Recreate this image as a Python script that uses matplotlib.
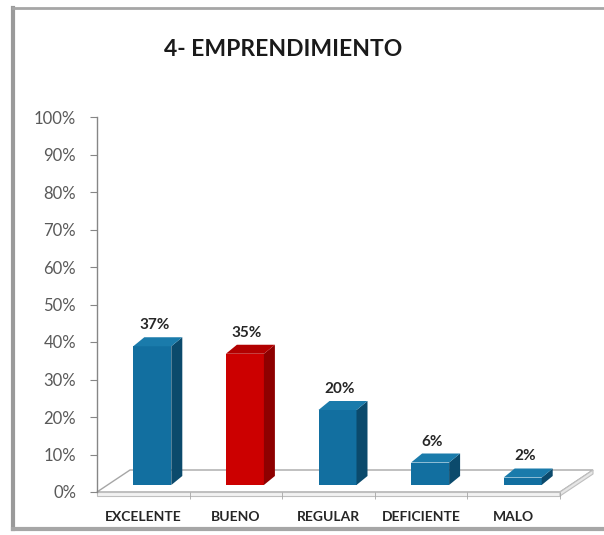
import matplotlib
matplotlib.use("Agg")
import matplotlib.pyplot as plt
from matplotlib.patches import Polygon
from matplotlib.lines import Line2D
import numpy as np

categories = ["EXCELENTE", "BUENO", "REGULAR", "DEFICIENTE", "MALO"]
values = [0.37, 0.35, 0.20, 0.06, 0.02]
value_labels = ["37%", "35%", "20%", "6%", "2%"]
tick_values = [0.0, 0.1, 0.2, 0.3, 0.4, 0.5, 0.6, 0.7, 0.8, 0.9, 1.0]
tick_labels = ["0%", "10%", "20%", "30%", "40%", "50%", "60%", "70%", "80%", "90%", "100%"]
title = "4- EMPRENDIMIENTO"

front_colors = ["#126FA0", "#CC0000", "#126FA0", "#126FA0", "#126FA0"]
side_colors = ["#0B4A6C", "#8E0000", "#0B4A6C", "#0B4A6C", "#0B4A6C"]
top_colors = ["#1A7BAB", "#B20000", "#1A7BAB", "#1A7BAB", "#1A7BAB"]

FONT = ["Lato", "DejaVu Sans"]

W, H = 604, 535
fig = plt.figure(figsize=(W / 100, H / 100), dpi=100)
fig.patch.set_facecolor("white")

# axes: x from 97px to 560px, y 0% at 492px, 100% at 117px (from top)
left, right = 97, 560
y0, y100 = 492, 117
ax = fig.add_axes([left / W, (H - y0) / H, (right - left) / W, (y0 - y100) / H])
ax.set_xlim(-0.5, 4.5)
ax.set_ylim(0, 1)
ax.set_facecolor("none")

xu = (right - left) / 5.0       # px per category
yu = (y0 - y100) / 1.0          # px per unit value

# floor depth offsets (data units)
fdx, fdy = 33 / xu, 22 / yu
floor = Polygon([(-0.5, 0), (-0.5 + fdx, fdy), (4.5 + fdx, fdy), (4.5, 0)],
                closed=True, facecolor="white", edgecolor="#A6A6A6", lw=1.0,
                clip_on=False, zorder=1)
ax.add_patch(floor)
slab = Polygon([(-0.5, 0), (4.5, 0), (4.5, -4 / yu), (-0.5, -4 / yu)], closed=True,
               facecolor="#F2F2F2", edgecolor="#BFBFBF", lw=0.8, clip_on=False, zorder=1)
ax.add_patch(slab)
slab_side = Polygon([(4.5, 0), (4.5 + fdx, fdy), (4.5 + fdx, fdy - 4 / yu), (4.5, -4 / yu)],
                    closed=True, facecolor="#E6E6E6", edgecolor="#BFBFBF", lw=0.8,
                    clip_on=False, zorder=1)
ax.add_patch(slab_side)

# bars
x = np.arange(len(categories))
ox, oy = 9 / xu, 7 / yu
bw = 38 / xu
sdx, sdy = 11 / xu, 9 / yu
bars = ax.bar(x + ox, values, width=bw, bottom=oy, color=front_colors,
              edgecolor="none", zorder=3)
for b, sc, tc, lab in zip(bars, side_colors, top_colors, value_labels):
    bx, by, bwid, bh = b.get_x(), b.get_y(), b.get_width(), b.get_height()
    side = Polygon([(bx + bwid, by), (bx + bwid + sdx, by + sdy),
                    (bx + bwid + sdx, by + bh + sdy), (bx + bwid, by + bh)],
                   closed=True, facecolor=sc, edgecolor="none", zorder=3, clip_on=False)
    top = Polygon([(bx, by + bh), (bx + sdx, by + bh + sdy),
                   (bx + bwid + sdx, by + bh + sdy), (bx + bwid, by + bh)],
                  closed=True, facecolor=tc, edgecolor="none", zorder=3, clip_on=False)
    ax.add_patch(side)
    ax.add_patch(top)
    ax.text(bx + bwid / 2 + 2 / xu, by + bh + sdy + 5 / yu, lab,
            ha="center", va="bottom", fontsize=11, fontweight="bold",
            color="#262626", family=FONT, zorder=5)

# y axis
for s in ["top", "right", "bottom"]:
    ax.spines[s].set_visible(False)
ax.spines["left"].set_color("#868686")
ax.spines["left"].set_linewidth(1.0)
ax.set_yticks(tick_values)
ax.set_yticklabels(tick_labels, fontsize=12, color="#595959", family=FONT)
ax.tick_params(axis="y", direction="out", length=5, color="#868686", pad=10)

# x axis
ax.set_xticks(x)
ax.set_xticklabels(categories, fontsize=10, fontweight="bold", color="#262626", family=FONT)
ax.tick_params(axis="x", length=0, pad=14)
ax.set_xticks(np.arange(-0.5, 5, 1.0)[1:], minor=True)
ax.tick_params(axis="x", which="minor", direction="out", length=5, color="#A6A6A6")

# title
fig.text(283 / W, (H - 49) / H, title, ha="center", va="center",
         fontsize=16.5, fontweight="bold", color="#1A1A1A", family=FONT)

# chart frame
fig.add_artist(Line2D([13 / W, 13 / W], [(H - 8) / H, (H - 529) / H],
                      transform=fig.transFigure, color="#9A9A9A", lw=3))
fig.add_artist(Line2D([13 / W, 1.0], [(H - 8) / H, (H - 8) / H],
                      transform=fig.transFigure, color="#A6A6A6", lw=2))
fig.add_artist(Line2D([13 / W, 1.0], [(H - 529) / H, (H - 529) / H],
                      transform=fig.transFigure, color="#A6A6A6", lw=3))

fig.savefig("out.png", dpi=100, facecolor="white")
